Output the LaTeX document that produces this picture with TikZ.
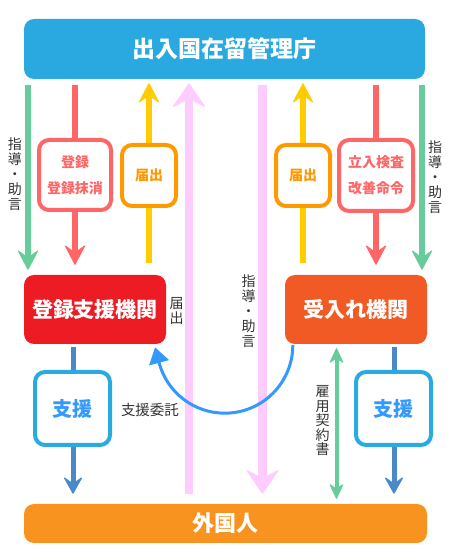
\documentclass[tikz,border=0pt]{standalone}
\usepackage{fontspec}
\setmainfont{Noto Sans CJK JP}
\usetikzlibrary{arrows.meta,backgrounds}
\definecolor{topblue}{HTML}{29A9E0}
\definecolor{botorange}{HTML}{F7931E}
\definecolor{regred}{HTML}{ED1C24}
\definecolor{ukorange}{HTML}{F15A24}
\definecolor{arrgreen}{HTML}{66CC99}
\definecolor{arrred}{HTML}{FF6666}
\definecolor{arryellow}{HTML}{FFCC00}
\definecolor{boxorange}{HTML}{FF9900}
\definecolor{arrpink}{HTML}{FFCCFF}
\definecolor{steelblue}{HTML}{4A89C8}
\definecolor{boxblue}{HTML}{29ABE2}
\definecolor{txtblue}{HTML}{3399FF}
\definecolor{curveblue}{HTML}{3399FF}
\definecolor{labgray}{HTML}{333333}
\begin{document}
\begin{tikzpicture}[x=1pt,y=1pt,
  bar/.style={rounded corners=10pt, inner sep=0pt, text=white, font=\fontsize{23}{27}\selectfont\bfseries},
  org/.style={rounded corners=10pt, inner sep=0pt, minimum width=142pt, minimum height=69pt, text=white, font=\fontsize{21}{25}\selectfont\bfseries},
  lbox/.style={draw, line width=4pt, fill=white, rounded corners=10pt, inner sep=0pt, font=\fontsize{14}{26}\selectfont\bfseries, align=center},
  sbox/.style={lbox, draw=boxblue, text=txtblue, minimum width=75pt, minimum height=73pt, font=\fontsize{20}{24}\selectfont\bfseries},
  vlab/.style={text=labgray, font=\fontsize{14}{15}\selectfont, align=center, inner sep=0pt},
  bigtip/.tip={Stealth[round,length=21pt,width=22pt,inset=8pt,line width=1pt]},
  pinktip/.tip={Stealth[round,length=25pt,width=34pt,inset=9pt,line width=1pt]},
  smalltip/.tip={Stealth[round,length=16pt,width=15pt,inset=5pt,line width=1pt]},
  bluetip/.tip={Stealth[round,length=18pt,width=20pt,inset=7pt,line width=1pt]},
  garr/.style={draw=arrgreen, line width=5.5pt, -bigtip},
  rarr/.style={draw=arrred, line width=5.5pt, -bigtip},
  yarr/.style={draw=arryellow, line width=5.5pt, -bigtip},
  parr/.style={draw=arrpink, line width=8.5pt, -pinktip},
  barr/.style={draw=steelblue, line width=5pt, -bluetip},
  darr/.style={draw=arrgreen, line width=4pt, smalltip-smalltip},
  carr/.style={draw=curveblue, line width=3pt, -{Triangle[length=16pt,width=20pt]}}
]
\useasboundingbox (0,0) rectangle (450,550);
% main nodes
\node[bar, fill=topblue, minimum width=401pt, minimum height=60pt] (top) at (224.5,501) {出入国在留管理庁};
\node[bar, fill=botorange, minimum width=403pt, minimum height=39pt, font=\fontsize{22}{26}\selectfont\bfseries] (bot) at (225.5,26.5) {外国人};
\node[org, fill=regred] (reg) at (95,240.5) {登録支援機関};
\node[org, fill=ukorange] (uk) at (356,240.5) {受入れ機関};
% boxes on arrows
\node[lbox, draw=arrred, text=arrred, minimum width=72pt, minimum height=70pt] (b1) at (75,375) {登録\\登録抹消};
\node[lbox, draw=boxorange, text=boxorange, minimum width=54pt, minimum height=61pt] (b2) at (149,374.5) {届出};
\node[lbox, draw=boxorange, text=boxorange, minimum width=54pt, minimum height=61pt] (b3) at (303,374.5) {届出};
\node[lbox, draw=arrred, text=arrred, minimum width=74pt, minimum height=71pt] (b4) at (376,374.5) {立入検査\\改善命令};
\node[sbox] (s1) at (72.5,141.5) {支援};
\node[sbox] (s2) at (393.5,141.5) {支援};
% labels
\node[vlab] (l1) at (15,375.5) {指\\導\\・\\助\\言};
\node[vlab] (l2) at (435,372.5) {指\\導\\・\\助\\言};
\node[vlab] (l3) at (248.5,239) {指\\導\\・\\助\\言};
\node[vlab] (l4) at (176.5,238.5) {届\\出};
\node[vlab, font=\fontsize{14}{14.5}\selectfont] (l5) at (322.5,129) {雇\\用\\契\\約\\書};
\node[text=labgray, font=\fontsize{14.5}{17}\selectfont, inner sep=0pt] (l6) at (150,140) {支援委託};
% x positions
\coordinate (xgl) at (28,0);
\coordinate (xrl) at (75,0);
\coordinate (xyl) at (149,0);
\coordinate (xpl) at (189,0);
\coordinate (xpr) at (262.5,0);
\coordinate (xyr) at (303,0);
\coordinate (xrr) at (376,0);
\coordinate (xgr) at (422,0);
\coordinate (xbl) at (73,0);
\coordinate (xbr) at (394,0);
\coordinate (xgd) at (336.5,0);
\begin{scope}[on background layer]
\draw[garr, shorten <=6pt, shorten >=5pt] (top.south -| xgl) -- (reg.north -| xgl);
\draw[rarr, shorten <=6pt, shorten >=10pt] (top.south -| xrl) -- (reg.north -| xrl);
\draw[yarr, shorten <=12pt, shorten >=4pt] (reg.north -| xyl) -- (top.south -| xyl);
\draw[parr, shorten <=10pt, shorten >=4pt] (bot.north -| xpl) -- (top.south -| xpl);
\draw[parr, shorten <=6pt, shorten >=10pt] (top.south -| xpr) -- (bot.north -| xpr);
\draw[yarr, shorten <=12pt, shorten >=4pt] (uk.north -| xyr) -- (top.south -| xyr);
\draw[rarr, shorten <=6pt, shorten >=10pt] (top.south -| xrr) -- (uk.north -| xrr);
\draw[garr, shorten <=6pt, shorten >=5pt] (top.south -| xgr) -- (uk.north -| xgr);
\draw[barr, shorten <=3pt, shorten >=10pt] (reg.south -| xbl) -- (bot.north -| xbl);
\draw[barr, shorten <=3pt, shorten >=10pt] (uk.south -| xbr) -- (bot.north -| xbr);
\draw[darr, shorten <=4pt, shorten >=5pt] (uk.south -| xgd) -- (bot.north -| xgd);
\draw[carr] ([xshift=8pt,yshift=-1pt]uk.south west) arc[start angle=0, end angle=-165, radius=68pt] -- ++(-4.1,15.5);
\end{scope}
\end{tikzpicture}
\end{document}
